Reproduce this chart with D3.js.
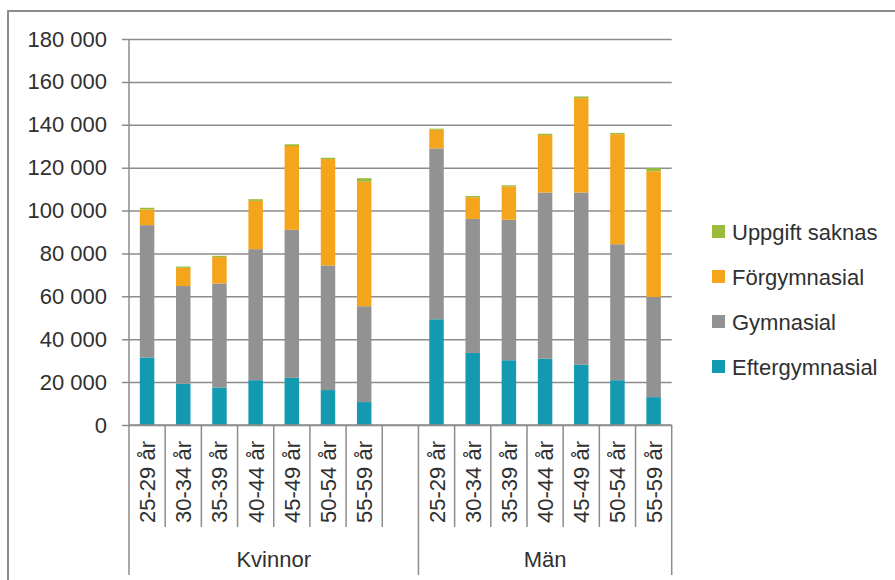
<!DOCTYPE html>
<html>
<head>
<meta charset="utf-8">
<script src="https://cdn.jsdelivr.net/npm/d3@7"></script>
<style>
    body { margin: 0; background: #fff; }
    svg { display: block; font-family: 'Liberation Sans', Arial, sans-serif; }
</style>
</head>
<body>
<div id="chart"></div>
<script>
'use strict';

// age groups, repeated for both genders
var ageGroups = ['25-29 år', '30-34 år', '35-39 år', '40-44 år', '45-49 år', '50-54 år', '55-59 år'];
var genders = ['Kvinnor', 'Män'];

// stacked bottom -> top
var seriesNames = ['Eftergymnasial', 'Gymnasial', 'Förgymnasial', 'Uppgift saknas'];
var seriesColors = ['#1399b0', '#929293', '#f5a51b', '#9bbb3b'];

// 7 values for Kvinnor, then 7 for Män
var eftergymnasial = [31500, 19200, 17500, 20900, 22000, 16300, 10700, 49300, 33600, 30200, 30900, 28100, 20900, 13000];
var gymnasial = [61700, 45600, 48500, 61100, 69000, 58100, 44700, 79700, 62500, 65500, 77500, 80300, 63400, 46700];
var forgymnasial = [7300, 8500, 12300, 22500, 39100, 49600, 58000, 8700, 10100, 15500, 26800, 44000, 51300, 58600];
var uppgiftSaknas = [800, 600, 600, 800, 800, 600, 1700, 500, 600, 600, 600, 800, 600, 1500];

var yTicks = [0, 20000, 40000, 60000, 80000, 100000, 120000, 140000, 160000, 180000];

var width = 895, height = 580;
var plot = { left: 129, right: 671.7, top: 39, bottom: 425 };
var textColor = '#303030';
var lineColor = '#8c8c8c';
var fontSize = 22;

var svg = d3.select('#chart').append('svg')
    .attr('width', width)
    .attr('height', height);

svg.append('rect').attr('width', width).attr('height', height).attr('fill', '#fff');

// outer chart frame (only top and left edges are inside the picture)
svg.append('path')
    .attr('d', 'M8,' + height + 'V11H' + width)
    .attr('fill', 'none')
    .attr('stroke', lineColor)
    .attr('stroke-width', 2);

// build slots: Kvinnor ages, an empty slot, Män ages
var slots = [];
genders.forEach(function(g, gi) {
    ageGroups.forEach(function(a) { slots.push(g + '|' + a); });
    if (gi === 0) slots.push(g + '|');
});

var rows = [];
genders.forEach(function(g, gi) {
    ageGroups.forEach(function(a, ai) {
        var i = gi * ageGroups.length + ai;
        rows.push({
            key: g + '|' + a,
            'Eftergymnasial': eftergymnasial[i],
            'Gymnasial': gymnasial[i],
            'Förgymnasial': forgymnasial[i],
            'Uppgift saknas': uppgiftSaknas[i]
        });
    });
});

var x = d3.scaleBand().domain(slots).range([plot.left, plot.right]).padding(0);
var y = d3.scaleLinear().domain([0, 180000]).range([plot.bottom, plot.top]);
var barWidth = x.bandwidth() * 0.4;

// gridlines + y labels
var yAxis = svg.append('g')
    .attr('transform', 'translate(' + plot.left + ',0)')
    .call(d3.axisLeft(y)
        .tickValues(yTicks)
        .tickSize(-(plot.right - plot.left))
        .tickPadding(22)
        .tickFormat(function(d) { return d3.format(',')(d).replace(/,/g, ' '); }));

yAxis.select('.domain').remove();
yAxis.selectAll('.tick line')
    .attr('x1', -7)
    .attr('stroke', lineColor)
    .attr('stroke-width', 1.5);
yAxis.selectAll('.tick text')
    .attr('fill', textColor)
    .style('font-size', fontSize + 'px')
    .style('font-family', "'Liberation Sans', Arial, sans-serif");

// stacked bars
var stacked = d3.stack().keys(seriesNames)(rows);

svg.append('g').selectAll('g')
    .data(stacked)
    .enter().append('g')
    .attr('fill', function(d, i) { return seriesColors[i]; })
    .selectAll('rect')
    .data(function(d) { return d; })
    .enter().append('rect')
    .attr('x', function(d) { return x(d.data.key) + (x.bandwidth() - barWidth) / 2; })
    .attr('width', barWidth)
    .attr('y', function(d) { return y(d[1]); })
    .attr('height', function(d) { return y(d[0]) - y(d[1]); });

// axes lines
svg.append('line')
    .attr('x1', plot.left).attr('x2', plot.right)
    .attr('y1', plot.bottom).attr('y2', plot.bottom)
    .attr('stroke', lineColor).attr('stroke-width', 1.5);

svg.append('line')
    .attr('x1', plot.left).attr('x2', plot.left)
    .attr('y1', plot.top).attr('y2', 575)
    .attr('stroke', lineColor).attr('stroke-width', 1.5);

// category dividers
var groupEdges = [x(genders[1] + '|' + ageGroups[0]), plot.right];
slots.forEach(function(s, i) {
    if (i === 0) return;
    var xx = x(s);
    var isGroupEdge = groupEdges.indexOf(xx) >= 0;
    svg.append('line')
        .attr('x1', xx).attr('x2', xx)
        .attr('y1', plot.bottom).attr('y2', isGroupEdge ? 575 : 527)
        .attr('stroke', lineColor).attr('stroke-width', 1.5);
});
svg.append('line')
    .attr('x1', plot.right).attr('x2', plot.right)
    .attr('y1', plot.bottom).attr('y2', 575)
    .attr('stroke', lineColor).attr('stroke-width', 1.5);

// rotated age labels
svg.append('g').selectAll('text')
    .data(rows)
    .enter().append('text')
    .attr('transform', function(d) {
        return 'translate(' + (x(d.key) + x.bandwidth() / 2 + 8) + ',' + 441 + ') rotate(-90)';
    })
    .attr('text-anchor', 'end')
    .attr('fill', textColor)
    .style('font-size', fontSize + 'px')
    .text(function(d) { return d.key.split('|')[1]; });

// gender labels
var groupSpans = [[plot.left, groupEdges[0]], [groupEdges[0], plot.right]];
svg.append('g').selectAll('text')
    .data(genders)
    .enter().append('text')
    .attr('x', function(d, i) { return (groupSpans[i][0] + groupSpans[i][1]) / 2; })
    .attr('y', 567)
    .attr('text-anchor', 'middle')
    .attr('fill', textColor)
    .style('font-size', fontSize + 'px')
    .text(function(d) { return d; });

// legend, top entry is the top of the stack
var legend = svg.append('g').selectAll('g')
    .data(seriesNames.slice().reverse())
    .enter().append('g')
    .attr('transform', function(d, i) { return 'translate(712,' + (232 + i * 45) + ')'; });

legend.append('rect')
    .attr('y', -7)
    .attr('width', 13)
    .attr('height', 13)
    .attr('fill', function(d) { return seriesColors[seriesNames.indexOf(d)]; });

legend.append('text')
    .attr('x', 20)
    .attr('dy', '0.35em')
    .attr('fill', textColor)
    .style('font-size', fontSize + 'px')
    .text(function(d) { return d; });
</script>
</body>
</html>
